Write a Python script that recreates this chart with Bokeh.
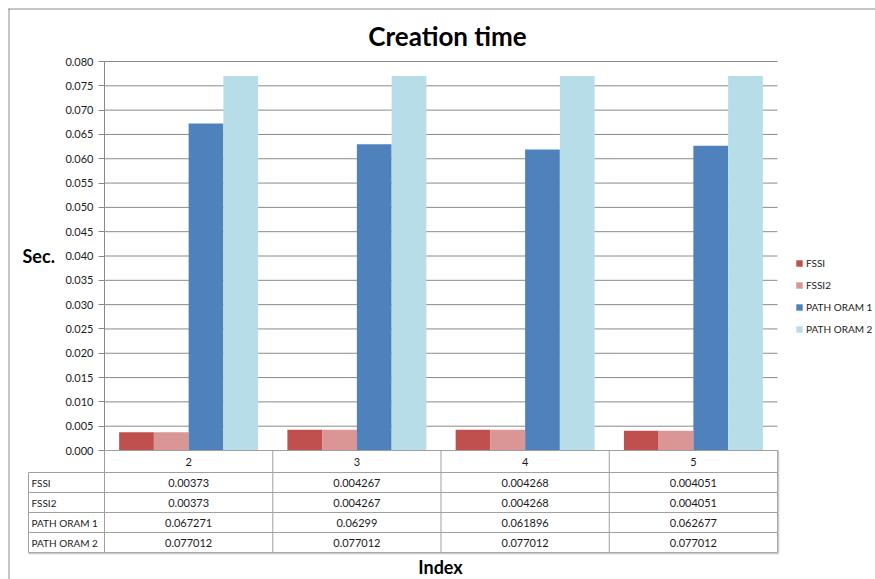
from bokeh.plotting import figure
from bokeh.models import (Range1d, FixedTicker, PrintfTickFormatter, Legend, LegendItem)
from bokeh.embed import file_html
from bokeh.resources import INLINE
from bokeh.core.properties import value

# ---------------- data ----------------
categories = ["2", "3", "4", "5"]
series_names = ["FSSI", "FSSI2", "PATH ORAM 1", "PATH ORAM 2"]
fssi = [0.00373, 0.004267, 0.004268, 0.004051]
fssi2 = [0.00373, 0.004267, 0.004268, 0.004051]
path_oram_1 = [0.067271, 0.06299, 0.061896, 0.062677]
path_oram_2 = [0.077012, 0.077012, 0.077012, 0.077012]
y_ticks = [round(i * 0.005, 3) for i in range(17)]
colors = ["#C0504D", "#D99694", "#4F81BD", "#B7DEE8"]
all_series = [fssi, fssi2, path_oram_1, path_oram_2]

FONT = "Lato"
TXT = "#1a1a1a"
GRID = "#8a8a8a"
TBL = "#a0a0a0"
BORDER = "#8c8c8c"

# ---------------- layout constants (page pixels) ----------------
W, H = 875, 579
PLOT_L, PLOT_R = 104, 777     # x extent of the category area
ZERO_PX, TOP_PX = 450, 61     # pixel rows of 0 and 0.08
YMAX = 0.08
n = len(categories)
PPU = (PLOT_R - PLOT_L) / n
YPP = YMAX / (ZERO_PX - TOP_PX)


def dx(px):
    return (px - PLOT_L) / PPU


def dy(py):
    return (ZERO_PX - py) * YPP


p = figure(width=W, height=H, frame_width=W, frame_height=H, sizing_mode="fixed",
           output_backend="svg", toolbar_location=None,
           x_range=Range1d(dx(0), dx(W)), y_range=Range1d(dy(H), dy(0)),
           min_border_left=0, min_border_right=0, min_border_top=0, min_border_bottom=0,
           x_axis_location=None, outline_line_color=None)
p.background_fill_color = "white"
p.border_fill_color = "white"
p.grid.visible = False

# y axis placed at the left edge of the category area
ya = p.yaxis[0]
ya.fixed_location = 0
ya.bounds = (0, YMAX)
ya.ticker = FixedTicker(ticks=y_ticks, minor_ticks=[])
ya.formatter = PrintfTickFormatter(format="%.3f")
ya.major_tick_out = 6
ya.major_tick_in = 0
ya.axis_line_color = GRID
ya.major_tick_line_color = GRID
ya.major_label_text_font = FONT
ya.major_label_text_font_size = "11px"
ya.major_label_text_color = TXT
ya.major_label_standoff = 5

# horizontal grid lines at the tick values, across the category area
p.segment(x0=[0] * len(y_ticks), y0=y_ticks, x1=[n] * len(y_ticks), y1=y_ticks,
          line_color=GRID, line_width=1)

# title
p.text(x=[dx(447)], y=[dy(35)], text=["Creation time"], text_font=value(FONT),
       text_font_size="26px", text_font_style="bold", text_color="#000000",
       text_align="center", text_baseline="middle")

# bars
bw = 0.2065
offsets = [-1.5, -0.5, 0.5, 1.5]
renderers = []
for vals, col, off in zip(all_series, colors, offsets):
    xs = [i + 0.5 + off * bw for i in range(n)]
    r = p.vbar(x=xs, top=vals, bottom=0, width=bw, fill_color=col, line_color=None)
    renderers.append(r)

legend = Legend(items=[LegendItem(label=s, renderers=[r]) for s, r in zip(series_names, renderers)],
                location=(795, H - 338), orientation="vertical",
                glyph_width=8, glyph_height=8, label_height=18, spacing=4,
                label_standoff=3, padding=0, margin=0,
                border_line_color=None, background_fill_alpha=0,
                label_text_font=FONT, label_text_font_size="10px", label_text_color=TXT)
p.add_layout(legend)

# axis titles
p.text(x=[dx(22)], y=[dy(255)], text=["Sec."], text_font=value(FONT), text_font_size="18px",
       text_font_style="bold", text_color="#000000", text_align="left", text_baseline="middle")
p.text(x=[dx(440)], y=[dy(566)], text=["Index"], text_font=value(FONT), text_font_size="18px",
       text_font_style="bold", text_color="#000000", text_align="center", text_baseline="middle")

# ---------------- data table under the plot ----------------
row_px = [450, 472, 492, 512, 532, 552]
row_edges = [dy(v) for v in row_px]
lab_l = dx(28)

hx0 = [0] + [lab_l] * (len(row_edges) - 1)
p.segment(x0=hx0, y0=row_edges, x1=[n] * len(row_edges), y1=row_edges,
          line_color=TBL, line_width=1)
vx = list(range(n + 1)) + [lab_l]
vy0 = [row_edges[0]] * (n + 1) + [row_edges[1]]
p.segment(x0=vx, y0=vy0, x1=vx, y1=[row_edges[-1]] * (n + 2), line_color=TBL, line_width=1)
# slightly heavier outer right / bottom edges
p.segment(x0=[n + 1.0 / PPU, lab_l], y0=[row_edges[0], row_edges[-1] - 1.0 * YPP],
          x1=[n + 1.0 / PPU, n + 1.0 / PPU], y1=[row_edges[-1] - 1.0 * YPP, row_edges[-1] - 1.0 * YPP],
          line_color="#c8c8c8", line_width=1.5)

# header text (categories)
p.text(x=[i + 0.5 for i in range(n)], y=[(row_edges[0] + row_edges[1]) / 2] * n, text=categories,
       text_font=value(FONT), text_font_size="11px", text_color=TXT,
       text_align="center", text_baseline="middle")

# values
tx, ty, tt = [], [], []
for r, vals in enumerate(all_series):
    yc = (row_edges[r + 1] + row_edges[r + 2]) / 2
    for i, v in enumerate(vals):
        tx.append(i + 0.5)
        ty.append(yc)
        tt.append(str(v))
p.text(x=tx, y=ty, text=tt, text_font=value(FONT), text_font_size="11px", text_color=TXT,
       text_align="center", text_baseline="middle")

# row labels
p.text(x=[dx(31)] * len(series_names),
       y=[(row_edges[k + 1] + row_edges[k + 2]) / 2 for k in range(len(series_names))],
       text=series_names, text_font=value(FONT), text_font_size="10px", text_color=TXT,
       text_align="left", text_baseline="middle")

# outer chart border (top and left)
p.segment(x0=[dx(8), dx(8.5)], y0=[dy(8.5), dy(8)], x1=[dx(W), dx(8.5)], y1=[dy(8.5), dy(H)],
          line_color=BORDER, line_width=1)

open("out.html", "w").write(file_html(p, INLINE))
